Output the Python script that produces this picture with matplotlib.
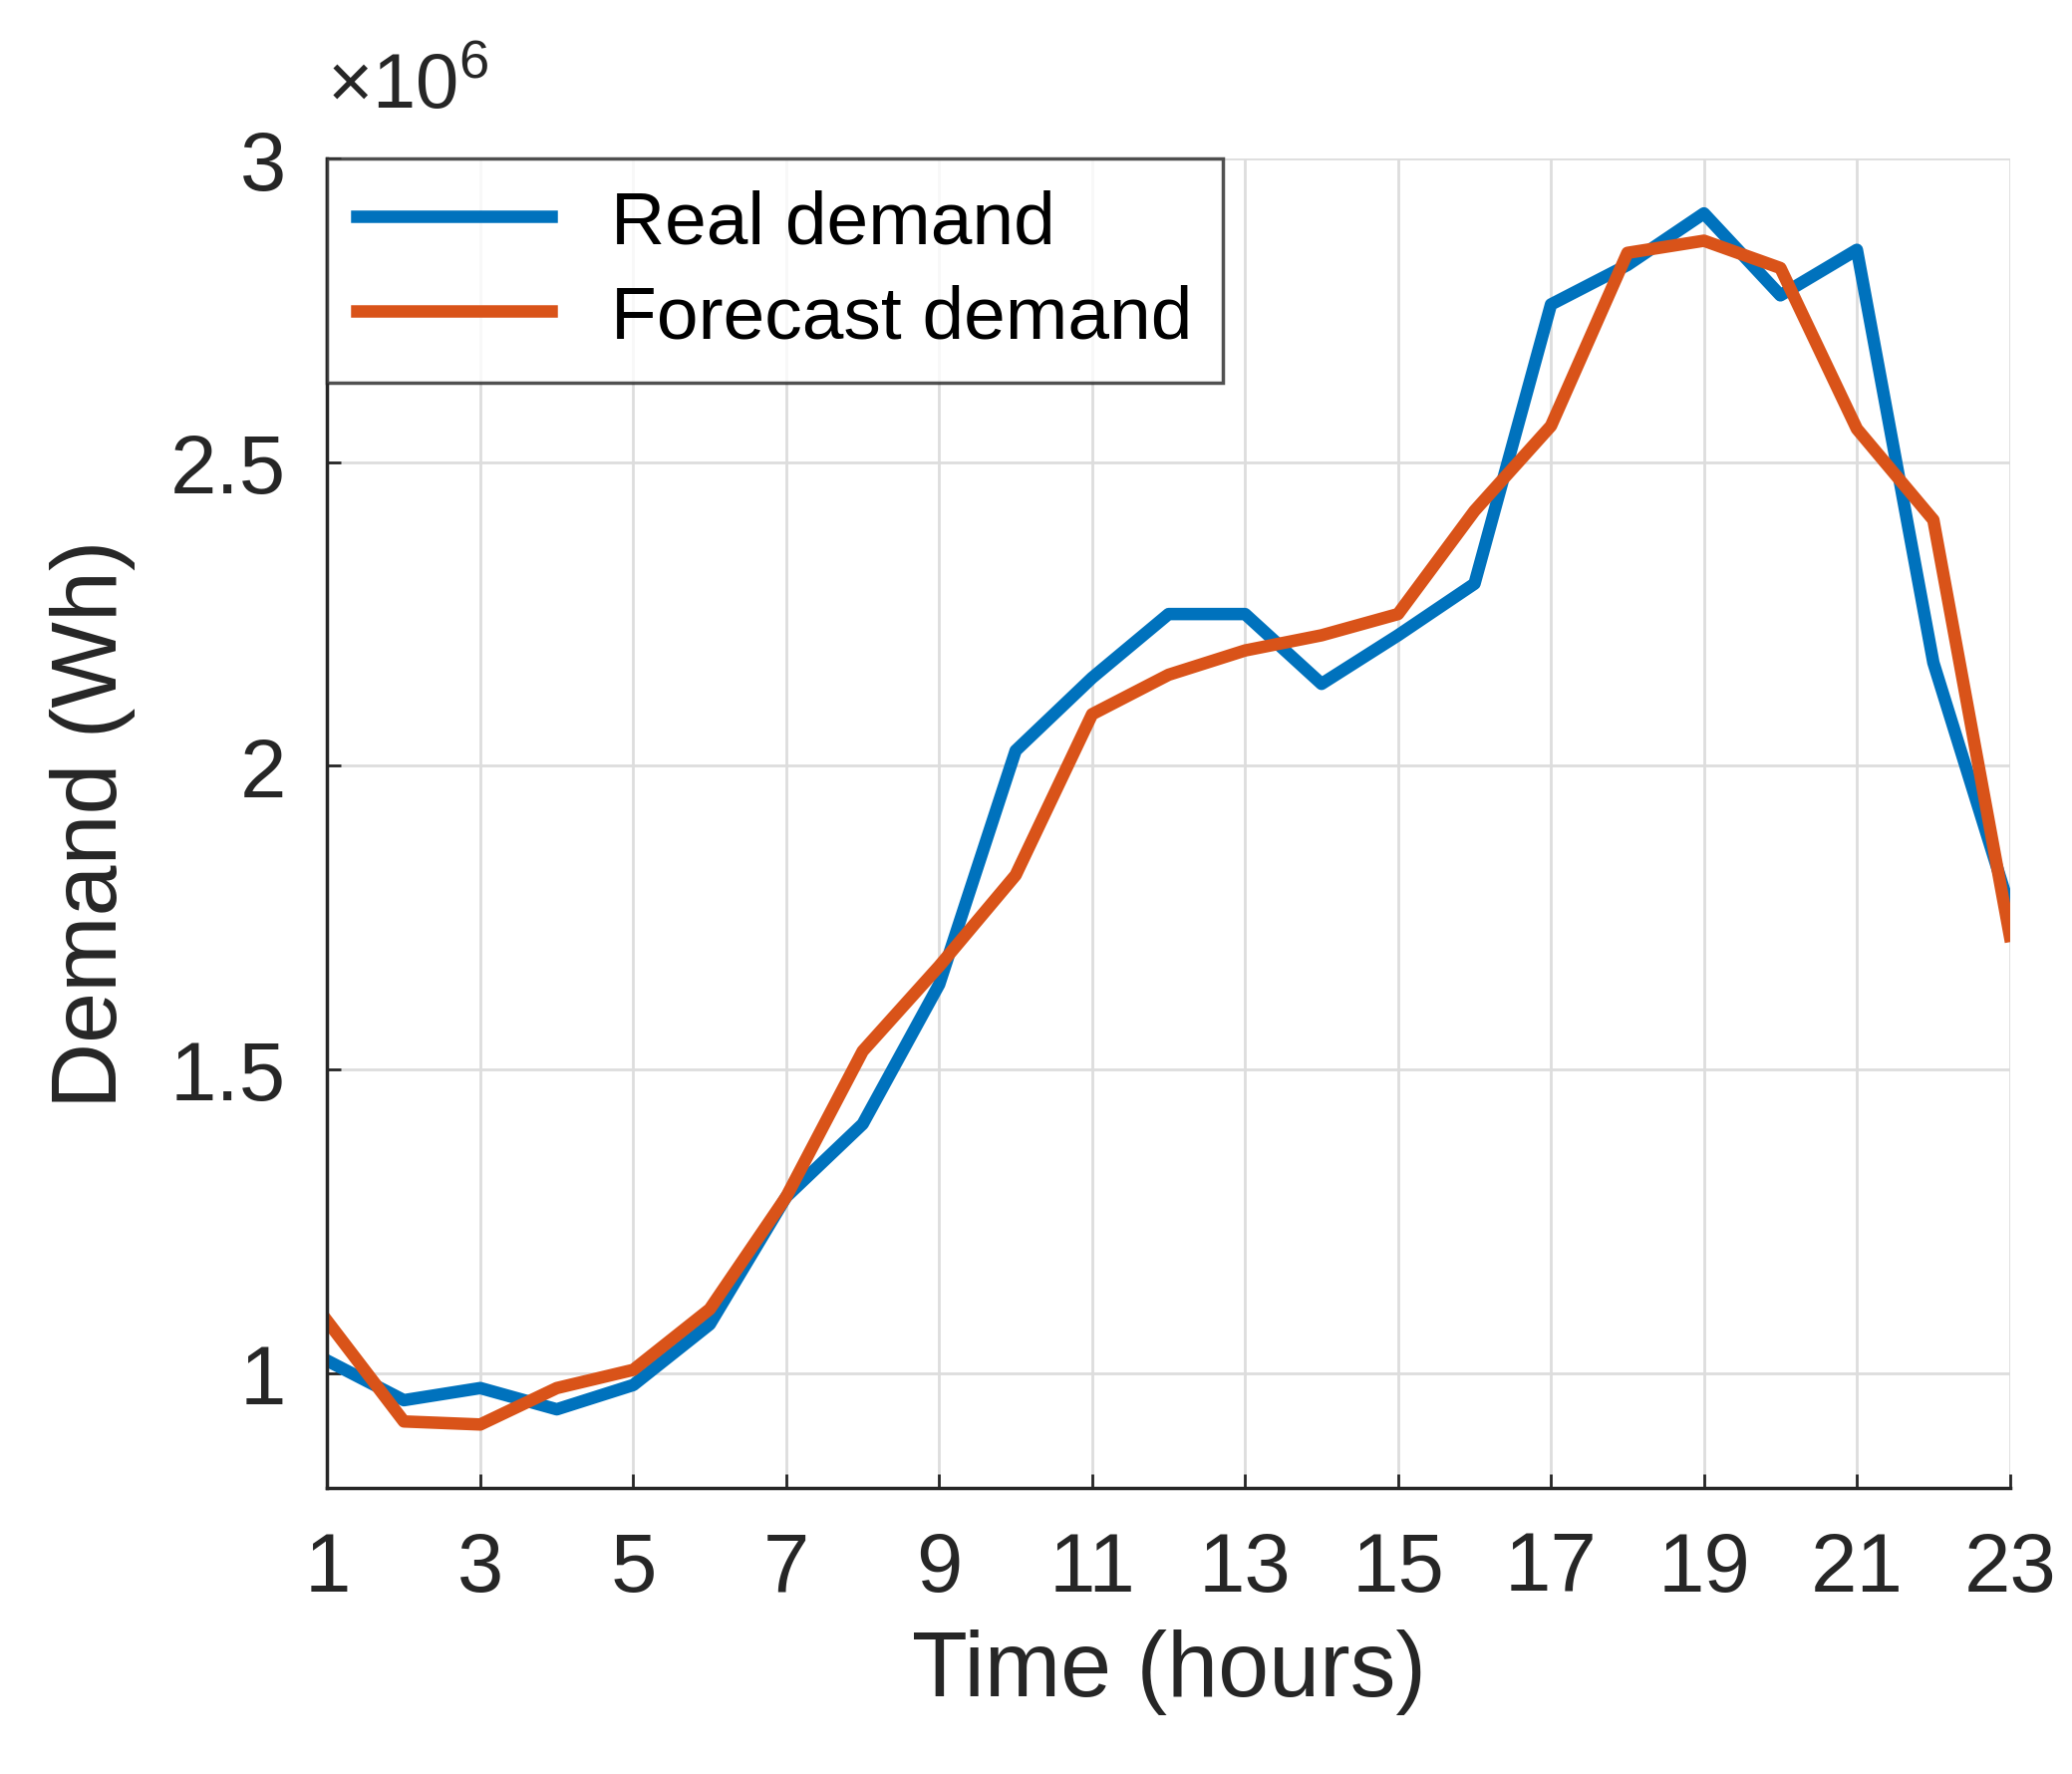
import matplotlib
matplotlib.use("Agg")
import matplotlib.pyplot as plt

plt.rcParams["font.family"] = "Liberation Sans"
plt.rcParams["mathtext.fontset"] = "custom"
plt.rcParams["mathtext.rm"] = "Liberation Sans"

hours = list(range(1, 24))
real = [1.02, 0.955, 0.975, 0.94, 0.98, 1.08, 1.29, 1.41, 1.64, 2.025, 2.145, 2.25, 2.25,
        2.135, 2.215, 2.30, 2.76, 2.825, 2.91, 2.775, 2.85, 2.17, 1.765]
forecast = [1.085, 0.92, 0.915, 0.975, 1.005, 1.105, 1.29, 1.53, 1.67, 1.82, 2.085, 2.15, 2.19,
            2.215, 2.25, 2.42, 2.56, 2.845, 2.865, 2.82, 2.555, 2.405, 1.72]
xticks = list(range(1, 24, 2))
yticks = [1, 1.5, 2, 2.5, 3]
ytick_labels = ["1", "1.5", "2", "2.5", "3"]

fig = plt.figure(figsize=(20.79, 17.81), dpi=100)
ax = fig.add_axes([0.158, 0.161, 0.812, 0.749])
ax.plot(hours, real, color="#0072BD", lw=9, label="Real demand")
ax.plot(hours, forecast, color="#D95319", lw=9, label="Forecast demand")
ax.set_xlim(1, 23)
ax.set_ylim(0.81, 3)
ax.set_xticks(xticks)
ax.set_yticks(yticks)
ax.set_yticklabels(ytick_labels)
ax.grid(True, color="#dddddd", lw=2)
ax.tick_params(labelsize=60, colors="#262626", direction="in", length=10, width=2, pad=30)
for s in ["top", "right"]:
    ax.spines[s].set_visible(False)
for s in ["left", "bottom"]:
    ax.spines[s].set_linewidth(2.5)
    ax.spines[s].set_color("#262626")
ax.set_xlabel("Time (hours)", fontsize=66, color="#262626", labelpad=15)
ax.set_ylabel("Demand (Wh)", fontsize=66, color="#262626", labelpad=25)
fig.text(0.158, 0.93, r"$\times10^{6}$", fontsize=56, color="#262626", va="bottom", ha="left")
leg = ax.legend(loc="upper left", fontsize=54, frameon=True, fancybox=False,
                edgecolor="#262626", handlelength=2.6, borderaxespad=0.0, borderpad=0.4,
                labelspacing=0.35)
leg.get_frame().set_linewidth(2.5)
fig.savefig("out.png", dpi=100)
